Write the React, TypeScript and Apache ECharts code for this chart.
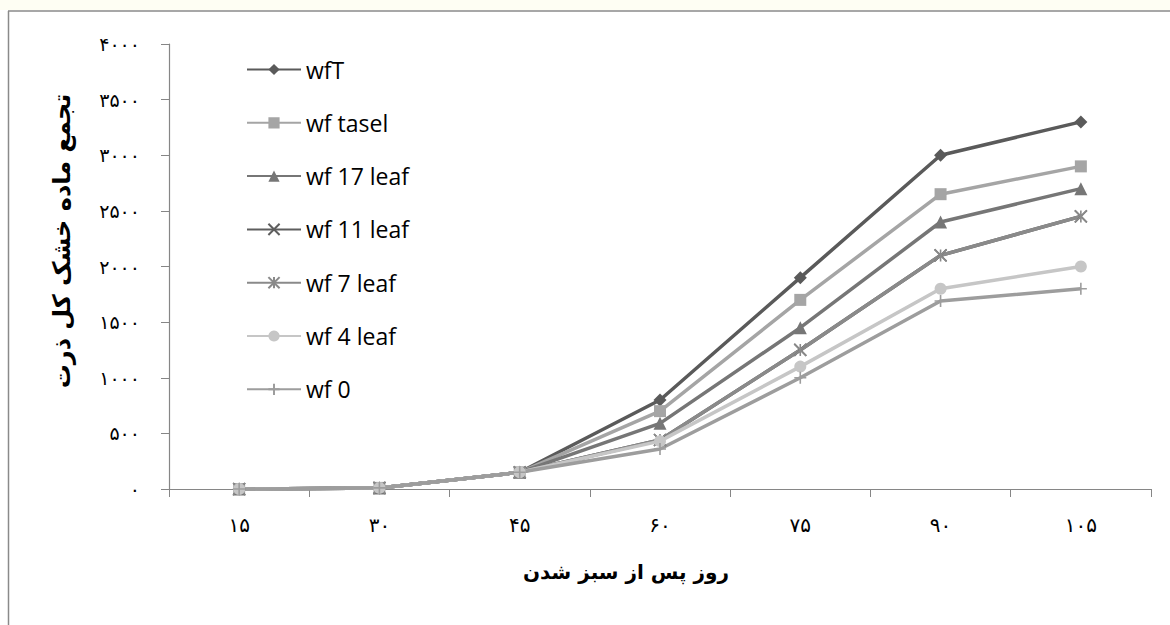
import React, { useEffect, useRef } from "react";
import * as echarts from "echarts";

const days = [15, 30, 45, 60, 75, 90, 105];
const yTicks = [0, 500, 1000, 1500, 2000, 2500, 3000, 3500, 4000];

const wfT = [0, 10, 150, 800, 1900, 3000, 3300];
const wfTasel = [0, 10, 150, 700, 1700, 2650, 2900];
const wf17 = [0, 10, 150, 590, 1450, 2400, 2700];
const wf11 = [0, 10, 150, 440, 1250, 2100, 2450];
const wf7 = [0, 10, 150, 440, 1250, 2100, 2450];
const wf4 = [0, 10, 150, 430, 1100, 1800, 2000];
const wf0 = [0, 10, 150, 360, 1000, 1690, 1800];

const seriesNames = ["wfT", "wf tasel", "wf 17 leaf", "wf 11 leaf", "wf 7 leaf", "wf 4 leaf", "wf 0"];
const seriesData = [wfT, wfTasel, wf17, wf11, wf7, wf4, wf0];
const seriesColors = ["#5a5a5a", "#a5a5a5", "#767676", "#5e5e5e", "#8a8a8a", "#c6c6c6", "#9d9d9d"];
const seriesSymbols = [
  "diamond",
  "rect",
  "triangle",
  "path://M0,0L10,10M10,0L0,10",
  "path://M0,0L10,10M10,0L0,10M5,0L5,10",
  "circle",
  "path://M0,5L10,5M5,0L5,10",
];
const symbolSizes = [13, 12, 13, 12, 12, 12, 12];
const strokeSymbol = [false, false, false, true, true, false, true];

const yTitle = "تجمع ماده خشک کل ذرت";
const xTitle = "روز پس از سبز شدن";

const fa = (v: number | string) => String(v).replace(/\d/g, (d) => "۰۱۲۳۴۵۶۷۸۹"[Number(d)]);

export default function App() {
  const ref = useRef<HTMLDivElement>(null);
  useEffect(() => {
    if (!ref.current) return;
    const chart = echarts.init(ref.current, null, { renderer: "svg" });
    const series = seriesNames.map((name, i) => ({
      name,
      type: "line",
      data: seriesData[i],
      symbol: seriesSymbols[i],
      symbolSize: symbolSizes[i],
      showAllSymbol: true,
      lineStyle: { color: seriesColors[i], width: 3.5 },
      itemStyle: strokeSymbol[i]
        ? { color: "rgba(0,0,0,0)", borderColor: seriesColors[i], borderWidth: 1.6, opacity: 1 }
        : { color: seriesColors[i], borderWidth: 0 },
      emphasis: { disabled: true },
    }));
    chart.setOption({
      animation: false,
      backgroundColor: "#ffffff",
      grid: { left: 169, right: 19, top: 44, bottom: 136, containLabel: false },
      legend: {
        orient: "vertical",
        left: 241,
        top: 53,
        itemWidth: 54,
        itemHeight: 14,
        itemGap: 30.3,
        data: seriesNames,
        textStyle: { fontFamily: "Open Sans", fontSize: 23, color: "#000", lineHeight: 22 },
      },
      xAxis: {
        type: "category",
        data: days.map(fa),
        boundaryGap: true,
        axisLine: { lineStyle: { color: "#868686", width: 1.2 } },
        axisTick: { show: true, length: 8, interval: 0, lineStyle: { color: "#868686" } },
        axisLabel: { interval: 0, margin: 26, fontFamily: "DejaVu Sans", fontSize: 20, color: "#000" },
        splitLine: { show: false },
      },
      yAxis: {
        type: "value",
        min: 0,
        max: 4000,
        interval: 500,
        axisLine: { show: true, lineStyle: { color: "#868686", width: 1.2 } },
        axisTick: { show: true, length: 8, lineStyle: { color: "#868686" } },
        axisLabel: { margin: 29, fontFamily: "DejaVu Sans", fontSize: 19, color: "#000", formatter: (v: number) => fa(v) },
        splitLine: { show: false },
      },
      graphic: [
        { type: "rect", shape: { x: 0, y: 0, width: 1170, height: 10 }, style: { fill: "#fefef3" }, silent: true },
        { type: "line", shape: { x1: 8, y1: 11, x2: 1170, y2: 11 }, style: { stroke: "#8a8a8a", lineWidth: 1.5 }, silent: true },
        { type: "line", shape: { x1: 8.5, y1: 11, x2: 8.5, y2: 625 }, style: { stroke: "#8a8a8a", lineWidth: 1.5 }, silent: true },
        {
          type: "text",
          x: 62,
          y: 241,
          rotation: Math.PI / 2,
          style: {
            text: yTitle,
            fontFamily: "DejaVu Sans",
            fontWeight: "bold",
            fontSize: 24,
            fill: "#000",
            align: "center",
            verticalAlign: "middle",
          },
        },
        {
          type: "text",
          x: 626,
          y: 572,
          style: {
            text: xTitle,
            fontFamily: "DejaVu Sans",
            fontWeight: "bold",
            fontSize: 20,
            fill: "#000",
            align: "center",
            verticalAlign: "middle",
          },
        },
      ],
      series,
    });
    return () => chart.dispose();
  }, []);
  return <div ref={ref} style={{ position: "absolute", left: 0, top: 0, width: 1170, height: 625 }} />;
}
